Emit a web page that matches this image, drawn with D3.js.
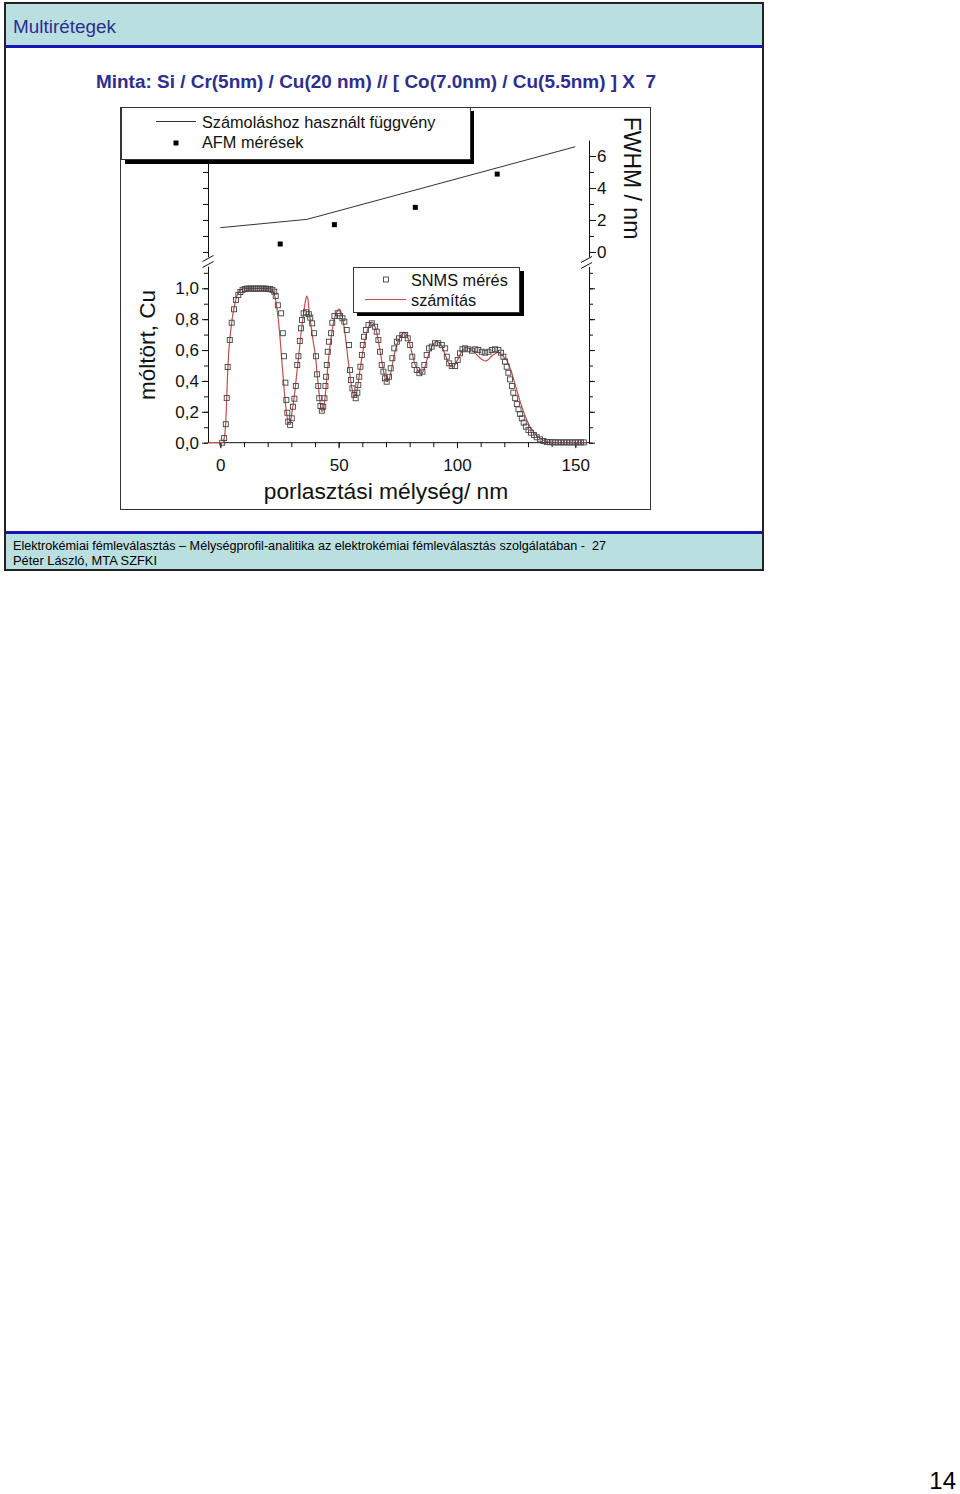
<!DOCTYPE html>
<html>
<head>
<meta charset="utf-8">
<script src="https://cdn.jsdelivr.net/npm/d3@7"></script>
<style>
  html, body { margin: 0; padding: 0; background: #fff; }
  svg { display: block; }
  text { font-family: "Liberation Sans", Arial, sans-serif; white-space: pre; }
</style>
</head>
<body>
<script>
// ---------- DATA ----------
const snmsDepth = [0.8,1.6,2.3,2.7,3.1,4.0,4.8,5.8,6.6,7.6,8.5,9.4,10.3,11.2,12.1,13.0,13.9,14.8,15.7,16.6,17.5,18.4,19.3,20.2,21.1,22.0,22.8,23.4,24.3,25.7,26.4,26.9,27.5,27.9,28.3,28.7,29.5,30.2,30.7,31.3,31.9,32.5,33.0,33.6,34.1,34.5,35.2,36.2,37.4,38.0,38.8,39.6,40.4,40.9,41.4,41.8,42.3,42.9,43.5,44.0,44.4,44.7,45.0,45.4,45.9,46.8,47.3,48.2,49.6,50.6,51.6,52.4,53.4,54.4,54.8,55.2,55.8,56.6,57.2,57.9,58.3,58.7,59.2,59.8,60.2,60.7,61.5,62.6,64.0,65.4,66.1,66.8,67.5,68.2,68.9,69.6,70.3,71.3,72.0,72.7,73.5,74.6,75.5,76.9,78.1,79.2,80.2,81.1,82.0,83.0,84.1,85.4,86.2,87.2,88.2,89.3,90.7,92.1,93.6,95.0,95.7,96.7,97.8,99.2,100.3,101.3,102.3,103.4,104.8,106.3,107.7,109.0,110.5,111.9,113.3,114.7,116.1,117.5,118.6,119.6,120.3,121.0,121.7,122.4,123.2,123.8,124.6,125.3,126.0,126.7,127.4,128.2,129.1,130.2,131.3,132.5,133.7,135.1,136.5,138.0,139.2,140.4,141.6,142.8,144.0,145.2,146.4,147.6,148.8,150.0,151.2,152.4,153.6];
const snmsFrac = [0.00,0.03,0.12,0.29,0.49,0.665,0.777,0.864,0.924,0.957,0.976,0.99,0.995,0.998,0.998,0.998,0.998,0.998,0.998,0.998,0.998,0.998,0.998,0.996,0.994,0.99,0.978,0.95,0.89,0.838,0.709,0.56,0.389,0.277,0.194,0.136,0.115,0.158,0.233,0.285,0.367,0.503,0.56,0.659,0.741,0.795,0.838,0.845,0.832,0.81,0.773,0.709,0.56,0.443,0.367,0.288,0.238,0.207,0.233,0.288,0.367,0.427,0.503,0.589,0.654,0.709,0.777,0.82,0.838,0.82,0.806,0.784,0.73,0.633,0.47,0.406,0.352,0.309,0.288,0.324,0.374,0.427,0.492,0.568,0.633,0.686,0.73,0.762,0.773,0.751,0.719,0.665,0.589,0.503,0.46,0.417,0.395,0.427,0.482,0.547,0.611,0.654,0.676,0.698,0.698,0.676,0.633,0.557,0.503,0.471,0.45,0.46,0.503,0.568,0.611,0.622,0.644,0.644,0.633,0.611,0.557,0.514,0.497,0.497,0.536,0.579,0.605,0.611,0.605,0.596,0.605,0.60,0.589,0.583,0.589,0.60,0.605,0.60,0.583,0.557,0.525,0.492,0.453,0.41,0.367,0.324,0.288,0.25,0.216,0.186,0.158,0.13,0.104,0.082,0.065,0.05,0.035,0.022,0.011,0.005,0.003,0.003,0.002,0.002,0.002,0.002,0.002,0.002,0.002,0.002,0.002,0.002,0.002];

const calcDepth = [-5,0,1.0,1.5,2.0,2.5,3.0,3.5,4.0,5.0,6.0,7.0,8.0,9.0,10,21,22,23,24,25,26,27,28,28.8,29.6,30.5,31.5,32.3,33.1,34.2,35.2,36.0,36.5,37.0,37.6,38.5,39.3,40.2,41.0,41.8,42.5,43.0,43.6,44.3,45.0,46.0,47.0,48.0,49.0,50.3,51.5,52.5,53.5,54.5,55.5,56.6,57.5,58.3,59.2,60.0,61.0,62.0,63.0,64.0,65.0,66.0,67.0,68.0,69.0,70.3,71.5,72.5,73.5,74.5,75.5,76.5,77.8,79.0,80.0,81.0,82.0,83.0,84.0,85.1,86.0,87.0,88.0,89.0,90.0,91.5,93.0,94.0,95.0,96.0,97.0,98.0,99.0,100.0,101.0,102.0,103.5,105.0,106.0,107.0,108.0,109.0,110.0,111.0,112.0,113.0,114.0,115.0,116.0,117.5,118.5,119.5,120.3,121.0,122.0,123.2,124.2,125.3,126.3,127.4,128.5,129.5,131.0,132.3,134.0,135.8,138.0,140.0,143.0,150.0,155.0];
const calcFrac = [0,0,0.0,0.02,0.07,0.2,0.42,0.57,0.67,0.80,0.89,0.95,0.98,0.995,1.0,1.0,0.99,0.95,0.86,0.72,0.53,0.34,0.19,0.125,0.14,0.22,0.33,0.45,0.56,0.72,0.84,0.92,0.95,0.93,0.84,0.74,0.65,0.56,0.43,0.31,0.22,0.20,0.22,0.30,0.42,0.58,0.70,0.79,0.84,0.865,0.82,0.73,0.60,0.47,0.36,0.30,0.32,0.39,0.49,0.57,0.66,0.72,0.76,0.78,0.765,0.72,0.64,0.55,0.46,0.395,0.42,0.49,0.57,0.63,0.67,0.70,0.715,0.69,0.64,0.58,0.52,0.48,0.455,0.45,0.47,0.52,0.57,0.61,0.64,0.655,0.64,0.61,0.57,0.53,0.50,0.49,0.50,0.53,0.56,0.59,0.615,0.61,0.60,0.59,0.575,0.56,0.545,0.535,0.529,0.535,0.55,0.565,0.575,0.585,0.575,0.56,0.545,0.536,0.50,0.45,0.395,0.34,0.285,0.233,0.185,0.147,0.10,0.071,0.042,0.022,0.008,0.003,0.001,0,0];

const fwhmLineDepth = [0, 36.6, 150];
const fwhmLineVal = [1.52, 2.04, 6.58];
const afmDepth = [25.3, 48.2, 82.4, 117.0];
const afmVal = [0.5, 1.71, 2.79, 4.87];

const xTickLabels = [0, 50, 100, 150];
const yLowTickLabels = [0, 0.2, 0.4, 0.6, 0.8, 1.0];
const yUpTickLabels = [0, 2, 4, 6];

// ---------- DRAW ----------
const W = 960, H = 1494;
const svg = d3.select("body").append("svg").attr("width", W).attr("height", H);
svg.append("rect").attr("width", W).attr("height", H).attr("fill", "#fff");

const bandColor = "#b9dfe0", blue = "#1414b4", titleColor = "#2e2e8f";

// Slide header
svg.append("rect").attr("x", 5).attr("y", 3).attr("width", 758).attr("height", 42).attr("fill", bandColor);
svg.append("rect").attr("x", 5).attr("y", 45).attr("width", 758).attr("height", 3).attr("fill", blue);
svg.append("text").attr("x", 13).attr("y", 33).attr("font-size", 18).attr("fill", titleColor)
  .attr("textLength", 103).attr("lengthAdjust", "spacingAndGlyphs").text("Multirétegek");
svg.append("text").attr("x", 96).attr("y", 88).attr("font-size", 18).attr("font-weight", "bold").attr("fill", titleColor)
  .attr("xml:space", "preserve")
  .attr("textLength", 560).attr("lengthAdjust", "spacingAndGlyphs")
  .text("Minta: Si / Cr(5nm) / Cu(20 nm) // [ Co(7.0nm) / Cu(5.5nm) ] X  7");

// Footer
svg.append("rect").attr("x", 5).attr("y", 531).attr("width", 758).attr("height", 3).attr("fill", blue);
svg.append("rect").attr("x", 5).attr("y", 534).attr("width", 758).attr("height", 36).attr("fill", bandColor);
svg.append("text").attr("x", 13).attr("y", 550).attr("font-size", 12).attr("fill", "#000")
  .attr("xml:space", "preserve")
  .attr("textLength", 593).attr("lengthAdjust", "spacingAndGlyphs")
  .text("Elektrokémiai fémleválasztás – Mélységprofil-analitika az elektrokémiai fémleválasztás szolgálatában -  27");
svg.append("text").attr("x", 13).attr("y", 565).attr("font-size", 12).attr("fill", "#000")
  .attr("textLength", 144).attr("lengthAdjust", "spacingAndGlyphs").text("Péter László, MTA SZFKI");

// Slide border
svg.append("rect").attr("x", 5).attr("y", 3).attr("width", 758).attr("height", 567)
  .attr("fill", "none").attr("stroke", "#222").attr("stroke-width", 2);

// Page number
svg.append("text").attr("x", 956).attr("y", 1489).attr("text-anchor", "end").attr("font-size", 24).attr("fill", "#000").text("14");

// Chart frame
svg.append("rect").attr("x", 120.5).attr("y", 107.5).attr("width", 530).attr("height", 402)
  .attr("fill", "#fff").attr("stroke", "#333").attr("stroke-width", 1);

// Scales
const x = d3.scaleLinear().domain([-5, 156]).range([208.5, 589.5]);
const yLow = d3.scaleLinear().domain([0, 1.143]).range([442.7, 266.2]);
const yUp = d3.scaleLinear().domain([-0.3, 7.0]).range([256.8, 140]);

const fmtComma = d => d3.format(".1f")(d).replace(".", ",");

function styleAxis(g) {
  g.selectAll("path, line").attr("stroke", "#111").attr("stroke-width", 1);
  g.selectAll("text").attr("font-family", "Liberation Sans, Arial, sans-serif").attr("fill", "#111");
}

// Lower panel: left axis
const minorLow = d3.range(0, 1.11, 0.1);
svg.append("g").attr("transform", "translate(208,0)")
  .call(d3.axisLeft(yLow).tickValues(minorLow).tickSize(4).tickSizeOuter(0).tickFormat(""))
  .call(styleAxis);
svg.append("g").attr("transform", "translate(208,0)")
  .call(d3.axisLeft(yLow).tickValues(yLowTickLabels).tickSize(6).tickSizeOuter(0).tickPadding(3).tickFormat(fmtComma))
  .call(g => g.select(".domain").remove())
  .call(styleAxis)
  .call(g => g.selectAll("text").attr("font-size", 17));
// Lower panel: right axis
svg.append("g").attr("transform", "translate(589,0)")
  .call(d3.axisRight(yLow).tickValues(minorLow).tickSize(4).tickSizeOuter(0).tickFormat(""))
  .call(styleAxis);
svg.append("g").attr("transform", "translate(589,0)")
  .call(d3.axisRight(yLow).tickValues(yLowTickLabels).tickSize(6).tickSizeOuter(0).tickFormat(""))
  .call(g => g.select(".domain").remove())
  .call(styleAxis);
// Bottom axis
svg.append("g").attr("transform", "translate(0,442.2)")
  .call(d3.axisBottom(x).tickValues(d3.range(0, 151, 10)).tickSize(5).tickSizeOuter(0).tickFormat(""))
  .call(styleAxis);
svg.append("g").attr("transform", "translate(0,442.2)")
  .call(d3.axisBottom(x).tickValues(xTickLabels).tickSize(6).tickSizeOuter(0).tickPadding(11).tickFormat(d3.format("d")))
  .call(g => g.select(".domain").remove())
  .call(styleAxis)
  .call(g => g.selectAll("text").attr("font-size", 17));

// Upper panel axes
svg.append("g").attr("transform", "translate(208,0)")
  .call(d3.axisLeft(yUp).tickValues(d3.range(0, 7, 1)).tickSize(5).tickSizeOuter(0).tickFormat(""))
  .call(styleAxis);
svg.append("g").attr("transform", "translate(589,0)")
  .call(d3.axisRight(yUp).tickValues(d3.range(0, 7, 1)).tickSize(5).tickSizeOuter(0).tickFormat(""))
  .call(styleAxis);
svg.append("g").attr("transform", "translate(589,0)")
  .call(d3.axisRight(yUp).tickValues(yUpTickLabels).tickSize(7).tickSizeOuter(0).tickPadding(1).tickFormat(d3.format("d")))
  .call(g => g.select(".domain").remove())
  .call(styleAxis)
  .call(g => g.selectAll("text").attr("font-size", 17));

// Axis breaks
function axisBreak(cx, cy) {
  const g = svg.append("g");
  g.append("rect").attr("x", cx - 3).attr("y", cy - 4).attr("width", 6).attr("height", 8).attr("fill", "#fff");
  [-3, 3].forEach(dy => {
    g.append("line").attr("x1", cx - 6).attr("y1", cy + dy + 3).attr("x2", cx + 5).attr("y2", cy + dy - 3)
      .attr("stroke", "#111").attr("stroke-width", 1);
  });
}
axisBreak(208.5, 261.5);
axisBreak(587, 262.5);

// Upper panel data
svg.append("path")
  .datum(fwhmLineDepth.map((d, i) => [d, fwhmLineVal[i]]))
  .attr("fill", "none").attr("stroke", "#333").attr("stroke-width", 1)
  .attr("d", d3.line().x(d => x(d[0])).y(d => yUp(d[1])));
svg.append("g").selectAll("rect").data(afmDepth.map((d, i) => [d, afmVal[i]])).join("rect")
  .attr("x", d => x(d[0]) - 2.5).attr("y", d => yUp(d[1]) - 2.5).attr("width", 5).attr("height", 5)
  .attr("fill", "#000");

// Lower panel data
const calcPts = calcDepth.map((d, i) => [d, calcFrac[i]]);
svg.append("path").datum(calcPts)
  .attr("fill", "none").attr("stroke", "#c0504d").attr("stroke-width", 1.2)
  .attr("d", d3.line().x(d => x(d[0])).y(d => yLow(d[1])).curve(d3.curveMonotoneX));
svg.append("g").selectAll("rect").data(snmsDepth.map((d, i) => [d, snmsFrac[i]])).join("rect")
  .attr("x", d => x(d[0]) - 2.5).attr("y", d => yLow(d[1]) - 2.5).attr("width", 5).attr("height", 5)
  .attr("fill", "none").attr("stroke", "#444").attr("stroke-width", 0.9);

// Axis titles
svg.append("text").attr("transform", "translate(155,345) rotate(-90)").attr("text-anchor", "middle")
  .attr("font-size", 22.5).attr("fill", "#111").text("móltört, Cu");
svg.append("text").attr("transform", "translate(624,178) rotate(90)").attr("text-anchor", "middle")
  .attr("font-size", 23).attr("fill", "#111").text("FWHM / nm");
svg.append("text").attr("x", 386).attr("y", 499).attr("text-anchor", "middle")
  .attr("font-size", 22.8).attr("fill", "#111").text("porlasztási mélység/ nm");

// Upper legend (with shadow)
svg.append("rect").attr("x", 125).attr("y", 111).attr("width", 349).attr("height", 53).attr("fill", "#000");
svg.append("rect").attr("x", 121.5).attr("y", 107.5).attr("width", 349).attr("height", 52)
  .attr("fill", "#fff").attr("stroke", "#333").attr("stroke-width", 1);
svg.append("line").attr("x1", 156).attr("x2", 196).attr("y1", 121.5).attr("y2", 121.5).attr("stroke", "#333").attr("stroke-width", 1);
svg.append("rect").attr("x", 173.5).attr("y", 140.5).attr("width", 5).attr("height", 5).attr("fill", "#000");
svg.append("text").attr("x", 202).attr("y", 128).attr("font-size", 16.3).attr("fill", "#111").text("Számoláshoz használt függvény");
svg.append("text").attr("x", 202).attr("y", 148).attr("font-size", 16.3).attr("fill", "#111").text("AFM mérések");

// Lower legend (with shadow)
svg.append("rect").attr("x", 357).attr("y", 271).attr("width", 167).attr("height", 45).attr("fill", "#000");
svg.append("rect").attr("x", 353.5).attr("y", 267.5).attr("width", 166).attr("height", 45)
  .attr("fill", "#fff").attr("stroke", "#333").attr("stroke-width", 1);
svg.append("rect").attr("x", 383.5).attr("y", 277).attr("width", 5).attr("height", 5)
  .attr("fill", "none").attr("stroke", "#444").attr("stroke-width", 0.9);
svg.append("line").attr("x1", 365).attr("x2", 406).attr("y1", 299.5).attr("y2", 299.5).attr("stroke", "#c0504d").attr("stroke-width", 1.2);
svg.append("text").attr("x", 411).attr("y", 286).attr("font-size", 16.3).attr("fill", "#111").text("SNMS mérés");
svg.append("text").attr("x", 411).attr("y", 306).attr("font-size", 16.3).attr("fill", "#111").text("számítás");
</script>
</body>
</html>
